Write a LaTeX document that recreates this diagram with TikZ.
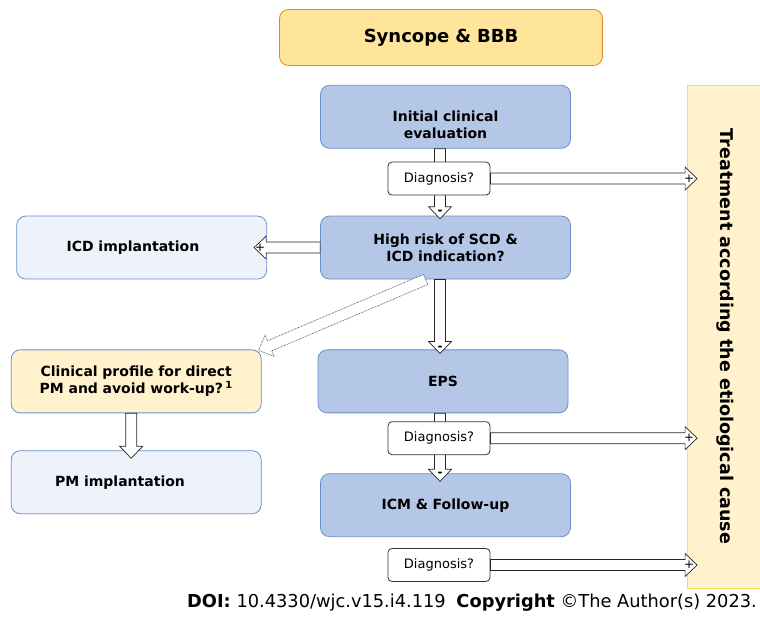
\documentclass[tikz,border=0pt]{standalone}
\usepackage{fontspec}
\setmainfont{DejaVu Sans}
\usepackage{tikz}
\usetikzlibrary{positioning,calc}

\definecolor{boxblue}{HTML}{B4C7E7}
\definecolor{lineblue}{HTML}{6A8FD0}
\definecolor{palefill}{HTML}{EEF2FA}
\definecolor{cream}{HTML}{FFF2CC}
\definecolor{titlefill}{HTML}{FFE599}
\definecolor{titleline}{HTML}{D98A2B}
\definecolor{treatline}{HTML}{FFD966}

\newcommand{\shaft}{5.5pt}
\newcommand{\headw}{11.5pt}
\newcommand{\headlen}{12pt}

\begin{document}
\begin{tikzpicture}[x=1pt,y=1pt,node distance=20pt,
    hollow/.style={draw=black!85,fill=white,line width=0.7pt,to path={
      ($(\tikztostart)!\shaft!90:(\tikztotarget)$)
      -- ($($(\tikztotarget)!\headlen!(\tikztostart)$)!\shaft!-90:(\tikztostart)$)
      -- ($($(\tikztotarget)!\headlen!(\tikztostart)$)!\headw!-90:(\tikztostart)$)
      -- (\tikztotarget)
      -- ($($(\tikztotarget)!\headlen!(\tikztostart)$)!\headw!90:(\tikztostart)$)
      -- ($($(\tikztotarget)!\headlen!(\tikztostart)$)!\shaft!90:(\tikztostart)$)
      -- ($(\tikztostart)!\shaft!-90:(\tikztotarget)$) -- cycle}},
    dotted hollow/.style={hollow,draw=black!70,line width=0.6pt,
      dash pattern=on 0.8pt off 0.8pt}]
  \tikzstyle{box}=[rectangle,rounded corners=9pt,line width=0.8pt,
    minimum width=250pt,minimum height=63pt,text width=240pt,align=center,
    font=\fontsize{14}{17}\selectfont\bfseries]
  \tikzstyle{blue box}=[box,fill=boxblue,draw=lineblue]
  \tikzstyle{pale box}=[box,fill=palefill,draw=lineblue]
  \tikzstyle{cream box}=[box,fill=cream,draw=lineblue]
  \tikzstyle{ask}=[rectangle,rounded corners=4pt,draw=black!80,fill=white,
    line width=0.8pt,minimum width=102pt,minimum height=33pt,
    font=\fontsize{13}{15}\selectfont]
  \tikzstyle{sign}=[inner sep=0pt,font=\fontsize{12}{12}\selectfont]

  \useasboundingbox (0,0) rectangle (760,617);

  \node[box,fill=titlefill,draw=titleline,minimum width=323pt,minimum height=56pt,
        font=\fontsize{18}{22}\selectfont\bfseries] (syn) at (441,579.5) {Syncope \& BBB};
  \node[blue box]  (init) [below=19pt of syn,xshift=4.5pt] {\rule{0pt}{26pt}Initial clinical\\ evaluation};
  \node[blue box]  (high) [below=67pt of init]             {High risk of SCD \&\\ ICD indication?};
  \node[blue box]  (eps)  [below=70pt of high,xshift=-2.5pt] {EPS};
  \node[blue box]  (icm)  [below=60pt of eps,xshift=2.5pt]  {ICM \& Follow-up};
  \node[pale box,text width=150pt,inner xsep=50pt,align=left]
                   (icd)  [left=53pt of high]               {ICD implantation};
  \node[cream box] (clin) [left=56pt of eps]                {Clinical profile for direct\\ PM and avoid work-up?\,\textsuperscript{1}};
  \node[pale box,text width=162pt,inner xsep=44pt,align=left]
                   (pm)   [below=37pt of clin]              {PM implantation};
  \node[rectangle,fill=cream,draw=treatline,line width=0.8pt,minimum width=76pt,
        minimum height=503pt,font=\fontsize{17.5}{20}\selectfont\bfseries]
                   (treat) at (725.5,280.5) {\rotatebox{-90}{Treatment according the etiological cause}};

  % vertical flow
  \coordinate (s1) at ([xshift=-5.5pt]init.south);
  \coordinate (e1) at ([xshift=-5.5pt,yshift=-3pt]high.north);
  \coordinate (s2) at ([xshift=-5.5pt]high.south);
  \coordinate (e2) at ([xshift=-3pt,yshift=-4pt]eps.north);
  \coordinate (s3) at ([xshift=-3pt]eps.south);
  \coordinate (e3) at ([xshift=-5.5pt,yshift=-8pt]icm.north);
  \coordinate (e4) at ([xshift=-13pt]icd.east);
  \coordinate (s5) at ([xshift=-5pt]clin.south);
  \coordinate (e5) at ([xshift=-5pt,yshift=-8pt]pm.north);
  \coordinate (s6) at ([xshift=-20pt]high.south);
  \coordinate (e6) at ([xshift=-3pt,yshift=-1pt]clin.north east);

  \draw[hollow] (s1) to (e1);
  \draw[hollow] (s2) to (e2);
  \draw[hollow] (s3) to (e3);
  \draw[hollow] (high.west) to (e4);
  \draw[hollow] (s5) to (e5);
  \draw[dotted hollow] (s6) to (e6);

  \node[ask] (ask1) [below=13pt of init,xshift=-6.5pt] {Diagnosis?};
  \node[ask] (ask2) [below=8pt of eps,xshift=-4pt]     {Diagnosis?};
  \node[ask] (ask3) [below=11pt of icm,xshift=-6.5pt]  {Diagnosis?};

  % to treatment
  \coordinate (t1) at ($(treat.west |- ask1.east)+(10pt,0)$);
  \coordinate (t2) at ($(treat.west |- ask2.east)+(10pt,0)$);
  \coordinate (t3) at ($(treat.west |- ask3.east)+(10pt,0)$);
  \draw[hollow] (ask1.east) to (t1);
  \draw[hollow] (ask2.east) to (t2);
  \draw[hollow] (ask3.east) to (t3);

  \node[sign] at ($(t1)+(-8pt,0)$) {+};
  \node[sign] at ($(t2)+(-8pt,0)$) {+};
  \node[sign] at ($(t3)+(-8pt,0)$) {+};
  \node[sign] at ($(e4)+(6pt,0)$)  {+};
  \node[sign,font=\fontsize{12}{12}\selectfont\bfseries] at ($(e1)+(0,6pt)$) {-};
  \node[sign,font=\fontsize{12}{12}\selectfont\bfseries] at ($(e2)+(0,5pt)$) {-};
  \node[sign,font=\fontsize{12}{12}\selectfont\bfseries] at ($(e3)+(0,7pt)$) {-};

  \node[anchor=west,inner sep=0pt,font=\fontsize{17.8}{21}\selectfont] (doi) at (187,14)
    {\textbf{DOI:} 10.4330/wjc.v15.i4.119\hspace{0.6em}\textbf{Copyright} ©The Author(s) 2023.};
\end{tikzpicture}
\end{document}
